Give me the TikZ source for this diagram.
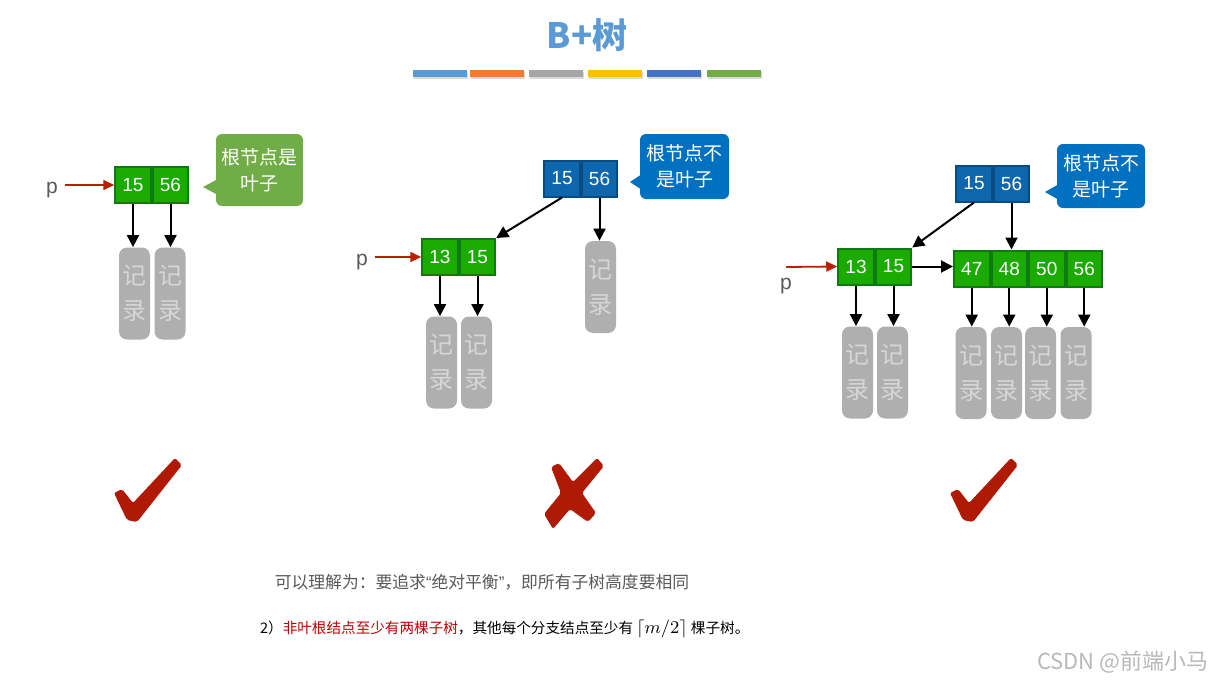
\documentclass[tikz,border=0pt]{standalone}
\usepackage{fontspec}
\setmainfont{Liberation Sans}
\newfontfamily\cjk{Noto Sans CJK SC}
\usetikzlibrary{arrows.meta}
\definecolor{keygreen}{HTML}{1AAA00}
\definecolor{keygreendark}{HTML}{0F7A12}
\definecolor{keyblue}{HTML}{0E66AD}
\definecolor{keybluedark}{HTML}{0A4B80}
\definecolor{notegreen}{HTML}{70AD47}
\definecolor{noteblue}{HTML}{0070C0}
\definecolor{recgray}{HTML}{AFAFAF}
\definecolor{rectext}{HTML}{D6D6D6}
\definecolor{ptrred}{HTML}{B72000}
\definecolor{markred}{HTML}{B01A05}
\definecolor{titleblue}{HTML}{5B9BD5}
\definecolor{txtgray}{HTML}{595959}
\definecolor{hlred}{HTML}{C00000}
\definecolor{barA}{HTML}{5B9BD5}
\definecolor{barB}{HTML}{ED7D31}
\definecolor{barC}{HTML}{A5A5A5}
\definecolor{barD}{HTML}{FFC000}
\definecolor{barE}{HTML}{4472C4}
\definecolor{barF}{HTML}{70AD47}

\begin{document}
\begin{tikzpicture}[x=.5pt,y=-.5pt,
	cellbox/.style={text=white, minimum width=17.75pt, minimum height=18pt, inner sep=0pt, line width=1pt, font=\fontsize{9.5}{9.5}\selectfont},
	gcell/.style={cellbox, fill=keygreen, draw=keygreendark},
	bcell/.style={cellbox, fill=keyblue, draw=keybluedark},
	rec/.style={fill=recgray, rounded corners=4pt, minimum width=15.5pt, minimum height=46pt, inner sep=0pt, text=rectext, align=center, font=\cjk\fontsize{12}{17.5}\selectfont},
	note/.style={rounded corners=3pt, text=white, align=center, inner sep=0pt, font=\cjk\fontsize{9.5}{13}\selectfont},
	arr/.style={-{Triangle[length=6pt,width=6pt]}, line width=1pt},
	ptr/.style={arr, draw=ptrred, -{Triangle[length=5.5pt,width=5pt]}, line width=.9pt},
	pname/.style={text=txtgray, font=\fontsize{10.5}{10.5}\selectfont}]
	\useasboundingbox (0,0) rectangle (1217,685);
	
	\node[font=\cjk\bfseries\fontsize{17.5}{17.5}\selectfont, text=titleblue] (title) at (587,35) {B+树};
	\foreach \x/\c in {413/barA,470/barB,529/barC,588/barD,647/barE,707/barF} {
		\fill[black!15] (\x+1,72) rectangle ++(54,7);
		\fill[\c] (\x,70) rectangle ++(54,7);
	}
	
	% root is leaf
	\node[gcell] (a1) at (133,185) {15}; \node[gcell,anchor=west] (a2) at (a1.east) {56};
	\node[pname] (p1) at (52,190) {p}; \draw[ptr] (p1.east |- a1.west) -- (a1.west);
	\node[rec] (ra1) at (134.5,293.5) {记\\录}; \draw[arr] (a1.south) -- (a1.south |- ra1.north);
	\node[rec] (ra2) at (170,293.5) {记\\录}; \draw[arr] (a2.south) -- (a2.south |- ra2.north);
	\node[note, fill=notegreen, minimum width=43.5pt, minimum height=36pt] (n1) at (259.5,170) {根节点是\\叶子};
	\fill[notegreen] (203,187) -- (218,179) -- (218,195) -- cycle;
	
	% root not leaf, wrong
	\node[bcell] (b1) at (562,178.5) {15}; \node[bcell,anchor=west] (b2) at (b1.east) {56};
	\node[gcell] (c1) at (440,257) {13}; \node[gcell,anchor=west] (c2) at (c1.east) {15};
	\node[pname] (p2) at (362,262) {p}; \draw[ptr] (p2.east |- c1.west) -- (c1.west);
	\draw[arr] (b1.south) -- (c2.north east);
	\node[rec] (rb) at (600.5,287) {记\\录}; \draw[arr] (b2.south) -- (b2.south |- rb.north);
	\node[rec] (rc1) at (441.5,362.5) {记\\录}; \draw[arr] (c1.south) -- (c1.south |- rc1.north);
	\node[rec] (rc2) at (476.5,362.5) {记\\录}; \draw[arr] (c2.south) -- (c2.south |- rc2.north);
	\node[note, fill=noteblue, minimum width=44.5pt, minimum height=32.5pt] (n2) at (684.5,166.5) {根节点不\\是叶子};
	\fill[noteblue] (630,182) -- (642,174) -- (642,190) -- cycle;
	
	% root not leaf, right
	\node[bcell] (d1) at (974,183.5) {15}; \node[bcell,anchor=west] (d2) at (d1.east) {56};
	\node[gcell] (e1) at (856,266.5) {13}; \node[gcell,anchor=west] (e2) at (e1.east) {15};
	\node[gcell] (f1) at (971.75,268.5) {47}; \node[gcell,anchor=west] (f2) at (f1.east) {48};
	\node[gcell,anchor=west] (f3) at (f2.east) {50}; \node[gcell,anchor=west] (f4) at (f3.east) {56};
	\coordinate (q3) at (786,267); \node[pname] (p3) at (786,286) {p}; \draw[ptr] (q3) -- (e1.west);
	\draw[arr] (d1.south) -- (e2.north east);
	\draw[arr] (d2.south) -- (d2.south |- f2.north);
	\draw[arr] (e2.east) -- (e2.east -| f1.west);
	\node[rec] (re1) at (857.5,372.5) {记\\录}; \draw[arr] (e1.south) -- (e1.south |- re1.north);
	\node[rec] (re2) at (892.5,372.5) {记\\录}; \draw[arr] (e2.south) -- (e2.south |- re2.north);
	\foreach \i/\x in {1/971,2/1006.5,3/1040.5,4/1076} {
		\node[rec] (rf\i) at (\x,373) {记\\录}; \draw[arr] (f\i.south) -- (f\i.south |- rf\i.north);
	}
	\node[note, fill=noteblue, minimum width=44pt, minimum height=32pt] (n3) at (1101,176) {根节点不\\是叶子};
	\fill[noteblue] (1045,192) -- (1059,184) -- (1059,200) -- cycle;
	
	% marks
	\fill[markred, rounded corners=1pt] (114,493) -- (122,489) -- (133,503) -- (175,458) -- (182,465) -- (137,522) -- (127,520) -- cycle;
	\fill[markred, rounded corners=1pt] (551,467) -- (559,463) -- (573,482) -- (597,458) -- (604,466) -- (582,493) -- (596,513) -- (588,522) -- (570,509) -- (553,529) -- (544,514) -- (561,493) -- cycle;
	\fill[markred, rounded corners=1pt] (950,493) -- (958,489) -- (969,503) -- (1011,458) -- (1018,465) -- (973,522) -- (963,520) -- cycle;
	
	\node[font=\cjk\fontsize{8.4}{8.4}\selectfont, text=txtgray] (t1) at (482,582) {可以理解为：要追求{\rmfamily “}绝对平衡{\rmfamily ”}，即所有子树高度要相同};
	\node[font=\cjk\fontsize{7.3}{7.3}\selectfont, anchor=west] (t2) at (253,629) {2）\textcolor{hlred}{非叶根结点至少有两棵子树}，其他每个分支结点至少有 {\fontsize{9.5}{9.5}\selectfont$\lceil m/2\rceil$} 棵子树。};
	\node[font=\cjk\fontsize{11}{11}\selectfont, text=black!28, anchor=west] (wm) at (1030,662) {CSDN @前端小马};
\end{tikzpicture}
\end{document}
